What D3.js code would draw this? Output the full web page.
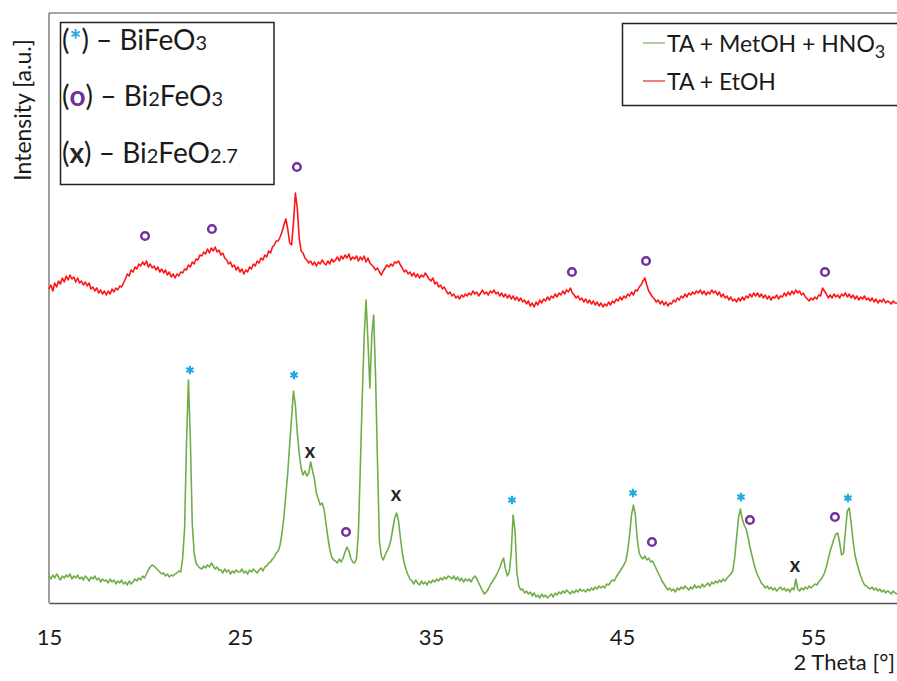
<!DOCTYPE html>
<html>
<head>
<meta charset="utf-8">
<script src="https://d3js.org/d3.v7.min.js"></script>
<style>
  body { margin:0; background:#fff; }
  text { font-family: Lato, "Open Sans", sans-serif; fill:#1a1a1a; }
</style>
</head>
<body>
<script>
var width = 897, height = 681;

// scan grid (2 Theta, degrees)
var thetaStart = 15, thetaStep = 0.1;

// TA + MetOH + HNO3 (one value every 0.1 deg, one row per degree)
var greenIntensity = [
  27,24,28,25,29,26,23,27,25,28,
  26,29,24,27,25,28,24,26,23,27,
  25,22,26,24,27,23,25,21,24,22,
  23,20,24,21,23,19,22,20,23,19,
  21,18,22,19,21,24,22,25,23,27,
  25,29,33,36,38,37,35,33,31,29,
  30,27,29,26,28,27,29,30,32,31,
  45,75,160,223,165,80,50,40,37,35,
  34,37,35,38,36,40,37,34,36,33,
  33,30,34,31,33,29,32,30,33,31,
  31,34,30,32,29,33,31,34,32,30,
  33,35,32,36,37,40,41,44,46,50,
  52,58,70,86,108,130,158,185,212,198,
  170,150,135,128,132,127,130,141,132,124,
  110,104,98,100,94,80,66,54,46,43,
  42,40,44,41,45,51,56,52,45,41,
  40,44,70,135,205,265,303,262,215,268,
  288,225,140,62,47,43,48,52,56,63,
  74,85,90,82,65,50,40,33,28,24,
  22,19,23,20,18,22,19,21,18,22,
  20,23,21,24,22,25,23,26,24,27,
  26,24,27,23,26,22,25,21,24,22,
  24,21,25,27,24,20,16,12,9,11,
  14,18,21,24,27,31,35,41,45,34,
  27,31,50,88,72,30,17,13,14,10,
  12,9,11,7,10,6,8,5,9,6,
  8,5,7,9,6,10,8,11,9,12,
  10,13,11,9,12,10,13,11,14,12,
  13,11,14,12,15,13,16,14,17,15,
  17,15,19,18,21,23,22,26,29,32,
  35,38,42,52,68,88,98,88,64,50,
  46,44,47,43,45,41,42,38,34,30,
  26,22,19,16,13,15,12,14,11,15,
  13,16,14,17,15,13,16,14,18,15,
  17,15,19,16,18,20,17,21,19,22,
  20,23,21,24,22,25,27,29,32,45,
  65,85,94,84,78,74,66,56,48,40,
  33,28,24,20,18,15,17,14,16,13,
  15,12,14,16,13,15,12,14,11,15,
  13,24,14,12,15,13,16,14,17,15,
  17,19,18,21,23,26,30,36,44,52,
  58,64,69,70,60,48,50,72,92,95,
  80,62,48,40,33,27,22,18,17,15,
  14,16,13,15,12,14,11,13,10,12,
  11,9,12,10,9
];

// TA + EtOH
var redIntensity = [
  314,318,312,320,316,322,319,325,321,327,
  323,328,324,326,321,325,320,322,318,321,
  317,320,314,316,312,315,310,313,309,312,
  308,312,309,314,311,315,313,317,316,320,
  324,329,327,333,331,336,334,339,337,341,
  338,342,336,339,335,337,333,336,331,334,
  330,333,328,331,326,329,325,329,327,331,
  330,334,333,338,336,341,339,344,343,348,
  347,351,349,354,350,355,352,356,351,353,
  348,350,345,343,339,341,336,338,333,336,
  331,334,329,333,331,336,334,339,337,342,
  340,345,343,348,346,352,350,356,358,362,
  362,366,371,378,384,374,360,358,380,410,
  395,365,352,350,345,343,340,342,338,341,
  337,341,339,343,340,338,342,339,344,341,
  343,346,342,347,344,348,345,349,343,346,
  344,347,342,346,343,347,341,345,340,338,
  336,333,335,331,328,332,335,338,336,339,
  337,341,340,342,338,335,331,333,329,331,
  327,330,326,329,325,328,326,330,327,324,
  322,325,319,321,316,318,314,316,312,309,
  311,307,309,305,307,304,308,306,309,307,
  310,308,312,309,311,307,310,313,309,311,
  308,312,310,313,309,311,307,310,306,309,
  305,308,304,307,303,306,302,305,301,303,
  299,302,297,300,296,301,298,303,300,304,
  302,306,303,307,305,309,306,310,308,312,
  309,313,311,315,310,308,305,307,303,305,
  301,304,300,303,299,302,298,301,297,300,
  296,299,297,301,298,302,300,304,302,306,
  303,307,305,309,307,311,308,313,312,316,
  318,322,325,318,312,309,306,304,301,303,
  299,302,298,301,297,300,299,303,301,305,
  303,307,305,309,306,310,308,311,309,312,
  310,313,309,312,308,311,309,313,310,312,
  308,311,306,309,305,307,303,306,302,304,
  301,305,302,306,303,307,305,309,306,310,
  307,310,306,309,305,308,304,307,303,306,
  305,308,304,307,306,310,307,311,308,312,
  309,313,310,312,308,310,306,304,302,305,
  303,306,304,308,307,315,312,309,305,308,
  305,309,306,308,305,309,307,310,306,309,
  305,308,304,307,303,306,304,307,303,305,
  302,305,301,304,300,303,301,304,300,302,
  301,299,302,300,300
];

var tickValues = [15, 25, 35, 45, 55];

// phase markers [2 Theta, intensity]
var starMarks = [[22.38,233],[27.83,228],[39.24,103],[45.58,110],[51.23,106],[56.83,105]];
var circleMarks = [[20.03,367],[23.53,374],[27.98,436],[42.38,331],[46.26,342],[55.63,331],
                   [30.55,71],[46.57,61],[51.7,83],[56.15,86]];
var crossMarks = [[28.66,151],[33.17,108],[54.06,37]];

var colGreen = "#70ad47", colRed = "#ff1414";
var colStar = "#1ea9e1", colCircle = "#7030a0", colCross = "#262626";

var svg = d3.select("body").append("svg")
  .attr("width", width)
  .attr("height", height);

var x = d3.scaleLinear().domain([15, 59.4]).range([49, 897]);
var y = d3.scaleLinear().domain([0, 590]).range([603, 13]);

function toPoints(arr) {
  return arr.map(function(v, i) { return [thetaStart + i * thetaStep, v]; });
}

var line = d3.line()
  .x(function(d) { return x(d[0]); })
  .y(function(d) { return y(d[1]); });

// frame
svg.append("line").attr("x1", 49).attr("x2", 897).attr("y1", 13).attr("y2", 13)
  .attr("stroke", "#8a8a8a").attr("stroke-width", 1.5);
svg.append("line").attr("x1", 49).attr("x2", 49).attr("y1", 13).attr("y2", 603)
  .attr("stroke", "#6a6a6a").attr("stroke-width", 1.3);

// curves
svg.append("path").datum(toPoints(redIntensity))
  .attr("d", line).attr("fill", "none")
  .attr("stroke", colRed).attr("stroke-width", 1.6).attr("stroke-linejoin", "round");
svg.append("path").datum(toPoints(greenIntensity))
  .attr("d", line).attr("fill", "none")
  .attr("stroke", colGreen).attr("stroke-width", 1.6).attr("stroke-linejoin", "round");

// x axis
var xAxis = svg.append("g")
  .attr("transform", "translate(0,603)")
  .call(d3.axisBottom(x).tickValues(tickValues).tickSize(0).tickPadding(26));
xAxis.select(".domain").attr("stroke", "#555").attr("stroke-width", 1.3);
xAxis.selectAll("text").attr("font-size", "22px").attr("font-family", "Lato, sans-serif").attr("fill", "#1a1a1a");

svg.append("text").text("2 Theta [°]")
  .attr("x", 895).attr("y", 670)
  .attr("text-anchor", "end").attr("font-size", "22px");

svg.append("text").text("Intensity [a.u.]")
  .attr("transform", "translate(31,110) rotate(-90)")
  .attr("text-anchor", "middle").attr("font-size", "23px");

// markers
var star = d3.symbol().type(d3.symbolAsterisk).size(50);
svg.selectAll(".star").data(starMarks).enter().append("path")
  .attr("class", "star")
  .attr("d", star)
  .attr("transform", function(d) { return "translate(" + x(d[0]) + "," + y(d[1]) + ")"; })
  .attr("fill", "none").attr("stroke", colStar).attr("stroke-width", 2.2);

svg.selectAll(".ring").data(circleMarks).enter().append("circle")
  .attr("class", "ring")
  .attr("cx", function(d) { return x(d[0]); })
  .attr("cy", function(d) { return y(d[1]); })
  .attr("r", 3.8)
  .attr("fill", "none").attr("stroke", colCircle).attr("stroke-width", 2.5);

svg.selectAll(".cross").data(crossMarks).enter().append("text")
  .attr("class", "cross")
  .attr("x", function(d) { return x(d[0]); })
  .attr("y", function(d) { return y(d[1]) + 6; })
  .attr("text-anchor", "middle")
  .attr("font-size", "20px").attr("font-weight", "bold")
  .style("fill", colCross)
  .text("x");

// phase legend (top left)
svg.append("rect").attr("x", 60.5).attr("y", 22.5).attr("width", 213.5).attr("height", 162)
  .attr("fill", "none").attr("stroke", "#222").attr("stroke-width", 1.5);

var phaseRows = [
  {sym: "*", col: colStar, parts: [["Bi", 0], ["FeO", 0], ["3", 1]], y: 50},
  {sym: "o", col: colCircle, parts: [["Bi", 0], ["2", 1], ["FeO", 0], ["3", 1]], y: 106},
  {sym: "x", col: colCross, parts: [["Bi", 0], ["2", 1], ["FeO", 0], ["2.7", 1]], y: 163}
];
phaseRows.forEach(function(r) {
  var t = svg.append("text").attr("x", 62).attr("y", r.y).attr("font-size", "28px");
  t.append("tspan").text("(");
  t.append("tspan").text(r.sym).attr("font-weight", "bold").style("fill", r.col);
  t.append("tspan").text(") \u2013 ");
  r.parts.forEach(function(p) {
    t.append("tspan").text(p[0]).attr("font-size", p[1] ? "20px" : "28px");
  });
});

// series legend (top right)
svg.append("rect").attr("x", 622.5).attr("y", 23.5).attr("width", 290).attr("height", 82)
  .attr("fill", "none").attr("stroke", "#222").attr("stroke-width", 1.5);

var legendRows = [
  {col: "#8cc277", y: 43},
  {col: "#e8504f", y: 81}
];
legendRows.forEach(function(r) {
  svg.append("line").attr("x1", 643).attr("x2", 665).attr("y1", r.y).attr("y2", r.y)
    .attr("stroke", r.col).attr("stroke-width", 1.5);
});
var l1 = svg.append("text").attr("x", 667).attr("y", 52).attr("font-size", "23px");
l1.append("tspan").text("TA + MetOH + HNO");
l1.append("tspan").text("3").attr("font-size", "18px").attr("dy", 6);
svg.append("text").attr("x", 667).attr("y", 90).attr("font-size", "23px").text("TA + EtOH");
</script>
</body>
</html>
